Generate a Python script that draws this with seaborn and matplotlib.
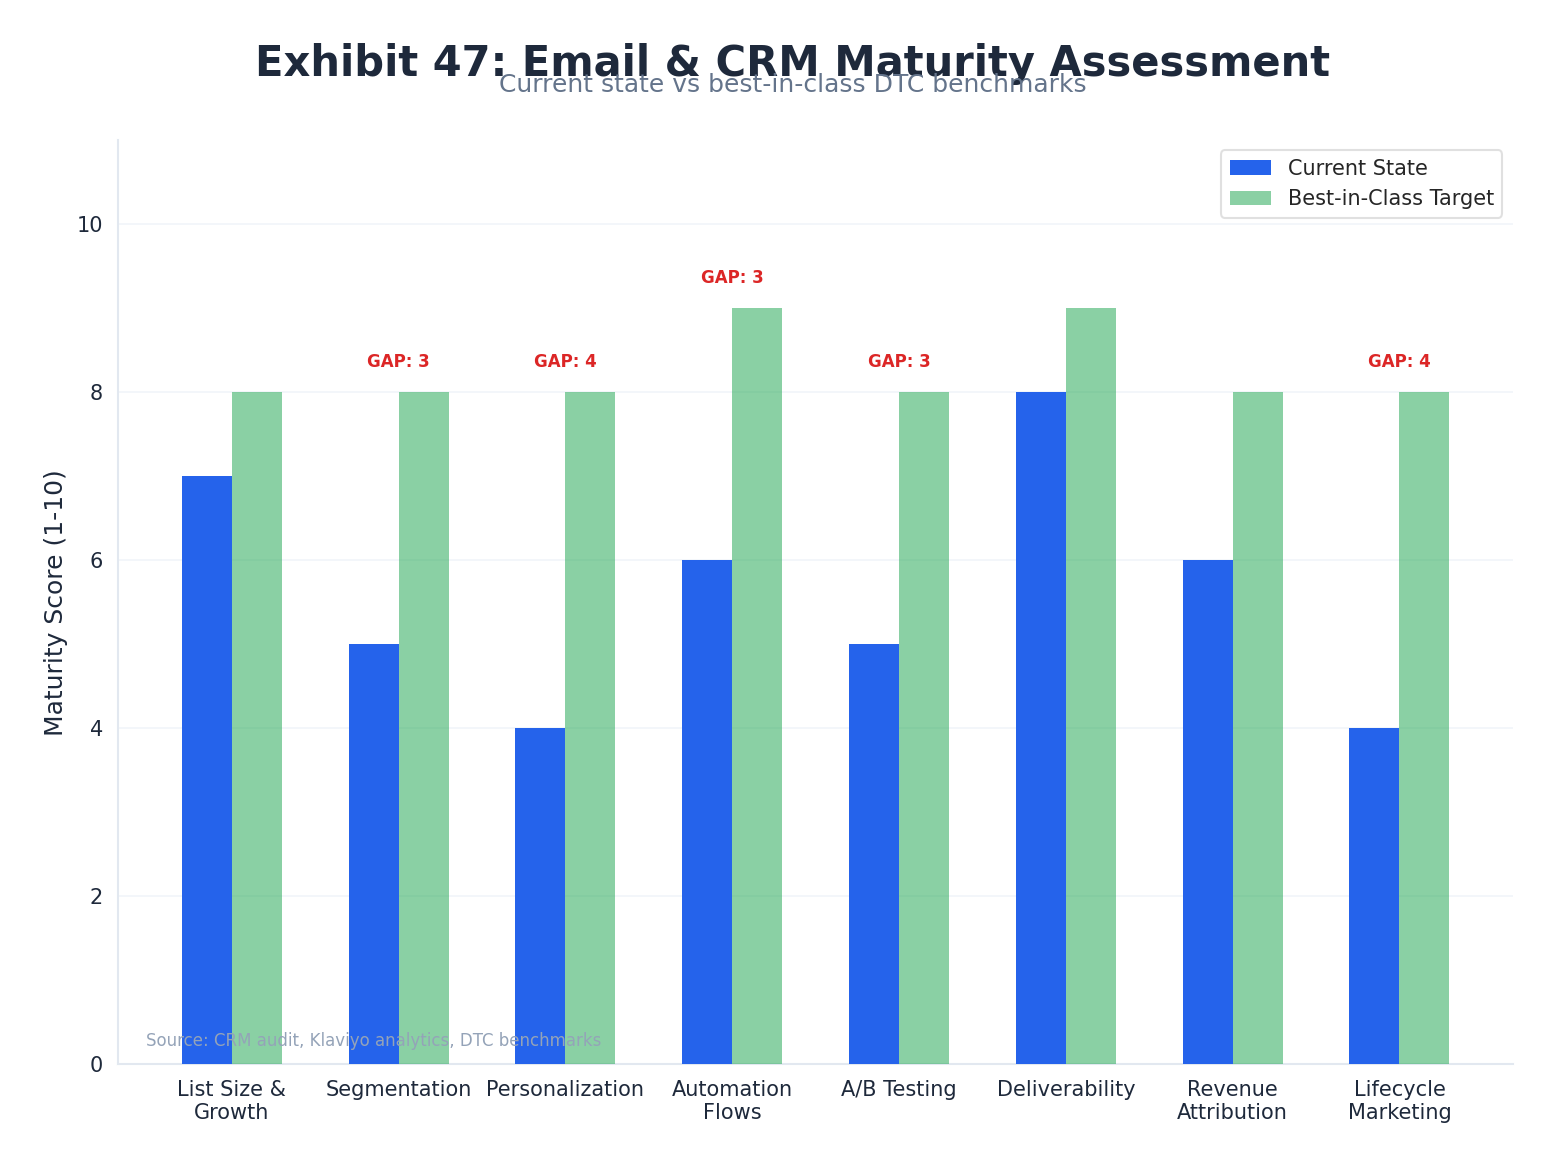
import matplotlib
matplotlib.use("Agg")
import matplotlib.pyplot as plt
import seaborn as sns
import pandas as pd

categories = ["List Size &\nGrowth", "Segmentation", "Personalization", "Automation\nFlows",
              "A/B Testing", "Deliverability", "Revenue\nAttribution", "Lifecycle\nMarketing"]
current = [7, 5, 4, 6, 5, 8, 6, 4]
target = [8, 8, 8, 9, 8, 9, 8, 8]
series_names = ["Current State", "Best-in-Class Target"]

sns.set_style("white")
plt.rcParams['font.family'] = ['DejaVu Sans']

df = pd.DataFrame({
    "Category": categories * 2,
    "Score": current + target,
    "Series": [series_names[0]] * len(categories) + [series_names[1]] * len(categories),
})

fig, ax = plt.subplots(figsize=(10.387, 7.78), dpi=150)
fig.subplots_adjust(left=0.076, right=0.971, top=0.88, bottom=0.088)

palette = {series_names[0]: "#2563eb", series_names[1]: "#16a34a"}
sns.barplot(data=df, x="Category", y="Score", hue="Series", order=categories,
            hue_order=series_names, palette=palette, width=0.6, gap=0,
            saturation=1, linewidth=0, ax=ax, zorder=3)

for bar in ax.containers[1]:
    bar.set_alpha(0.5)

for i, (c, t) in enumerate(zip(current, target)):
    gap = t - c
    if gap >= 3:
        ax.text(i, t + 0.25, f"GAP: {gap}", ha="center", va="bottom",
                color="#dc2626", fontsize=8, fontweight="bold")

ax.set_ylim(0, 11)
ax.set_xlim(-0.68, len(categories) - 1 + 0.68)
ax.set_yticks([0, 2, 4, 6, 8, 10])
ax.set_xlabel("")
ax.set_ylabel("Maturity Score (1-10)", fontsize=12, color="#1e293b")
ax.tick_params(axis="both", labelsize=10, colors="#1e293b", length=4)
ax.tick_params(axis="y", color="#475569")
ax.tick_params(axis="x", color="#475569")
ax.grid(axis="y", color="#f1f5f9", linewidth=0.8, zorder=0)
sns.despine(ax=ax)
for s in ["left", "bottom"]:
    ax.spines[s].set_color("#e2e8f0")
    ax.spines[s].set_linewidth(1)

leg = ax.legend(loc="upper right", fontsize=10, frameon=True, title=None)
for h in leg.legend_handles[1:]:
    h.set_alpha(0.5)
leg.get_frame().set_edgecolor("#d9d9d9")

ax.text(0.02, 0.015, "Source: CRM audit, Klaviyo analytics, DTC benchmarks",
        transform=ax.transAxes, fontsize=8, color="#94a3b8", ha="left", va="bottom", zorder=5)

fig.text(0.509, 0.945, "Exhibit 47: Email & CRM Maturity Assessment", ha="center", va="center",
         fontsize=20, fontweight="bold", color="#1e293b")
fig.text(0.509, 0.927, "Current state vs best-in-class DTC benchmarks", ha="center", va="center",
         fontsize=12, color="#64748b")

fig.savefig("out.png", dpi=150)
